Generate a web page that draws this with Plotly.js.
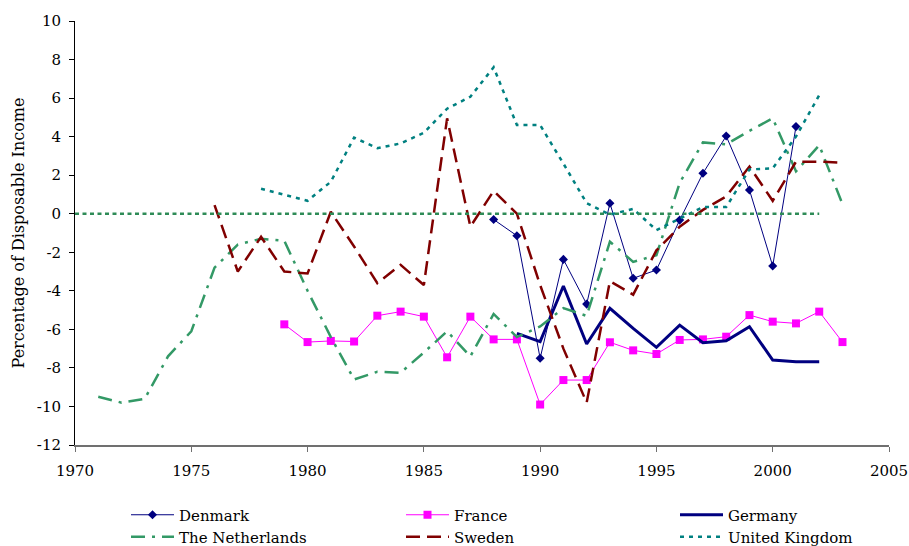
<!DOCTYPE html>
<html>
<head>
<meta charset="utf-8">
<script src="https://cdn.plot.ly/plotly-3.0.1.min.js"></script>
<style>html,body{margin:0;padding:0;background:#fff;}#chart{width:909px;height:546px;}</style>
</head>
<body>
<div id="chart"></div>
<script>
// ---- data ----
const denmarkYears = [1988,1989,1990,1991,1992,1993,1994,1995,1996,1997,1998,1999,2000,2001];
const denmarkValues = [-0.3,-1.14,-7.5,-2.37,-4.69,0.54,-3.35,-2.92,-0.33,2.1,4.03,1.23,-2.71,4.52];

const franceYears = [1979,1980,1981,1982,1983,1984,1985,1986,1987,1988,1989,1990,1991,1992,1993,1994,1995,1996,1997,1998,1999,2000,2001,2002,2003];
const franceValues = [-5.74,-6.66,-6.6,-6.63,-5.29,-5.08,-5.34,-7.45,-5.34,-6.52,-6.52,-9.9,-8.63,-8.63,-6.67,-7.09,-7.28,-6.55,-6.52,-6.38,-5.26,-5.6,-5.69,-5.08,-6.66];

const germanyYears = [1989,1990,1991,1992,1993,1994,1995,1996,1997,1998,1999,2000,2001,2002];
const germanyValues = [-6.21,-6.64,-3.75,-6.76,-4.91,-5.95,-6.93,-5.78,-6.69,-6.59,-5.86,-7.59,-7.68,-7.68];

const netherlandsYears = [1971,1972,1973,1974,1975,1976,1977,1978,1979,1980,1981,1982,1983,1984,1985,1986,1987,1988,1989,1990,1991,1992,1993,1994,1995,1996,1997,1998,1999,2000,2001,2002,2003];
const netherlandsValues = [-9.5,-9.8,-9.6,-7.4,-6.1,-2.8,-1.6,-1.3,-1.4,-4.0,-6.4,-8.6,-8.2,-8.25,-7.2,-6.1,-7.4,-5.2,-6.4,-5.85,-4.9,-5.3,-1.45,-2.5,-2.15,1.6,3.7,3.6,4.3,4.95,2.2,3.55,0.5];

const swedenYears = [1976,1977,1978,1979,1980,1981,1982,1983,1984,1985,1986,1987,1988,1989,1990,1991,1992,1993,1994,1995,1996,1997,1998,1999,2000,2001,2002,2003];
const swedenValues = [0.45,-3.0,-1.2,-3.0,-3.1,0.1,-1.7,-3.6,-2.65,-3.7,4.95,-0.67,1.18,0.0,-3.7,-7.0,-9.8,-3.5,-4.2,-1.9,-0.67,0.2,0.9,2.45,0.67,2.7,2.7,2.65];

const ukYears = [1978,1979,1980,1981,1982,1983,1984,1985,1986,1987,1988,1989,1990,1991,1992,1993,1994,1995,1996,1997,1998,1999,2000,2001,2002];
const ukValues = [1.3,0.97,0.67,1.66,3.95,3.4,3.65,4.2,5.45,6.07,7.6,4.6,4.6,2.6,0.55,-0.05,0.25,-0.85,-0.25,0.35,0.35,2.3,2.35,4.0,6.15];

const zeroYears = [1970,2002];
const zeroValues = [0,0];

const xTickVals = [1970,1975,1980,1985,1990,1995,2000,2005];
const xTickText = ['1970','1975','1980','1985','1990','1995','2000','2005'];
const yTickVals = [-12,-10,-8,-6,-4,-2,0,2,4,6,8,10];
const yTickText = ['-12','-10','-8','-6','-4','-2','0','2','4','6','8','10'];

const FONT = 'DejaVu Serif, Liberation Serif, serif';

const traces = [
  {name:'Denmark', legend:'legend', x:denmarkYears, y:denmarkValues, mode:'lines+markers',
   line:{color:'#000080', width:1}, marker:{symbol:'diamond', size:7, color:'#000080'}},
  {name:'France', legend:'legend2', x:franceYears, y:franceValues, mode:'lines+markers',
   line:{color:'#FF00FF', width:1}, marker:{symbol:'square', size:8, color:'#FF00FF'}},
  {name:'Germany', legend:'legend3', x:germanyYears, y:germanyValues, mode:'lines',
   line:{color:'#000080', width:3}},
  {name:'The Netherlands', legend:'legend4', x:netherlandsYears, y:netherlandsValues, mode:'lines',
   line:{color:'#339966', width:2.5, dash:'14px,7px,3px,7px'}},
  {name:'Sweden', legend:'legend5', x:swedenYears, y:swedenValues, mode:'lines',
   line:{color:'#800000', width:2.5, dash:'14px,7px'}},
  {name:'United Kingdom', legend:'legend6', x:ukYears, y:ukValues, mode:'lines',
   line:{color:'#008080', width:2.5, dash:'4px,5px'}},
  {name:'zero', x:zeroYears, y:zeroValues, mode:'lines', showlegend:false,
   line:{color:'#2E8B57', width:2.3, dash:'4px,3.5px'}}
];

function legendAt(px, py) {
  return {orientation:'v', x:(px - 75) / 814, xanchor:'left', y:(445 - py) / 424, yanchor:'middle',
          itemwidth:43, font:{family:FONT, size:15, color:'#000'}, bgcolor:'rgba(0,0,0,0)'};
}

const layout = {
  width:909, height:546,
  margin:{l:75, r:20, t:21, b:101, autoexpand:false},
  paper_bgcolor:'#ffffff', plot_bgcolor:'#ffffff',
  font:{family:FONT, size:15, color:'#000'},
  showlegend:true,
  hovermode:false,
  xaxis:{range:[1970,2005], tickvals:xTickVals, ticktext:xTickText, ticks:'outside', ticklen:5, tickcolor:'#707070',
         ticklabelstandoff:6,
         showline:true, linecolor:'#707070', linewidth:1.5, showgrid:false, zeroline:false,
         tickfont:{family:FONT, size:15}},
  yaxis:{range:[-12,10], tickvals:yTickVals, ticktext:yTickText, ticks:'outside', ticklen:5, tickcolor:'#000',
         ticklabelstandoff:5,
         showline:true, linecolor:'#000', linewidth:1, showgrid:false, zeroline:false,
         tickfont:{family:FONT, size:15},
         title:{text:'Percentage of Disposable Income', font:{family:FONT, size:16}, standoff:8}},
  legend: legendAt(126, 515),
  legend2: legendAt(401, 515),
  legend3: legendAt(675, 515),
  legend4: legendAt(126, 537),
  legend5: legendAt(401, 537),
  legend6: legendAt(675, 537)
};

Plotly.newPlot('chart', traces, layout, {staticPlot:true, displayModeBar:false});
</script>
</body>
</html>
